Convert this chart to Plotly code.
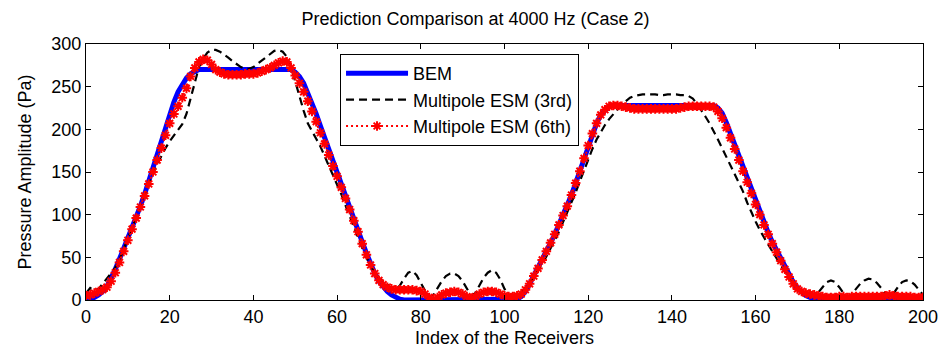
import plotly.graph_objects as go

receivers = list(range(0, 201))

bem = [
    0, 1, 3, 6, 10, 16, 25, 36, 48, 60,
    72, 84, 97, 110, 124, 140, 154, 168, 186, 203,
    218, 232, 244, 253, 260, 265, 268, 270, 270, 270,
    270, 270, 270, 270, 270, 270, 270, 270, 270, 270,
    270, 270, 270, 270, 270, 270, 270, 270, 270, 270,
    267, 262, 254, 243, 230, 218, 204, 190, 176, 162,
    149, 136, 122, 109, 96, 82, 68, 55, 42, 31,
    22, 15, 10, 6, 3, 1, 0, 0, 0, 0,
    0, 0, 0, 0, 0, 0, 0, 0, 0, 0,
    0, 0, 0, 0, 0, 0, 0, 0, 0, 0,
    0, 0, 0, 1, 4, 10, 19, 28, 37, 47,
    57, 67, 77, 88, 99, 110, 123, 137, 151, 166,
    181, 195, 207, 217, 223, 227, 228, 228, 228, 228,
    228, 228, 228, 228, 228, 228, 228, 228, 228, 228,
    228, 228, 228, 228, 228, 228, 228, 228, 228, 228,
    228, 225, 219, 208, 195, 182, 168, 155, 141, 128,
    115, 102, 90, 79, 68, 58, 48, 38, 29, 21,
    14, 9, 5, 3, 1, 0, 0, 0, 0, 0,
    0, 0, 0, 0, 0, 0, 0, 0, 0, 0,
    0, 0, 0, 0, 0, 0, 0, 0, 0, 0,
    0,
]

esm3 = [
    8, 14, 11, 13, 19, 25, 31, 38, 47, 59,
    71, 84, 97, 110, 123, 136, 148, 159, 169, 178,
    186, 193, 199, 206, 218, 237, 257, 273, 283, 290,
    293, 293, 291, 288, 284, 280, 276, 273, 271, 271,
    273, 277, 281, 285, 289, 292, 293, 291, 285, 273,
    256, 238, 222, 207, 197, 189, 180, 169, 158, 147,
    136, 124, 111, 98, 85, 73, 61, 50, 40, 32,
    26, 22, 18, 14, 12, 17, 25, 32, 34, 29,
    20, 11, 4, 6, 14, 22, 28, 31, 31, 28,
    22, 14, 5, 8, 17, 26, 32, 35, 32, 24,
    13, 6, 5, 6, 9, 14, 20, 27, 34, 42,
    51, 60, 70, 80, 91, 102, 114, 126, 139, 152,
    165, 177, 188, 197, 205, 212, 218, 224, 229, 233,
    237, 239, 240, 241, 241, 241, 241, 240, 240, 241,
    241, 241, 240, 240, 239, 236, 230, 223, 215, 207,
    198, 188, 178, 168, 158, 148, 138, 127, 114, 102,
    92, 82, 73, 65, 57, 49, 41, 33, 25, 19,
    14, 10, 7, 5, 5, 9, 15, 21, 23, 21,
    15, 8, 3, 7, 13, 19, 23, 25, 24, 20,
    14, 7, 3, 8, 15, 21, 23, 22, 18, 12,
    6,
]

esm6 = [
    5, 6, 8, 10, 12, 15, 22, 32, 44, 57,
    70, 83, 96, 109, 122, 136, 150, 164, 178, 193,
    207, 218, 227, 237, 248, 262, 272, 279, 282, 281,
    276, 270, 267, 265, 264, 264, 264, 264, 265, 265,
    265, 266, 268, 270, 272, 275, 278, 280, 279, 272,
    263, 254, 244, 233, 221, 209, 196, 183, 170, 157,
    145, 132, 119, 106, 93, 80, 66, 53, 41, 31,
    23, 18, 15, 13, 12, 12, 12, 12, 12, 11,
    10, 7, 3, 1, 3, 6, 8, 9, 10, 9,
    7, 4, 2, 4, 7, 9, 10, 10, 9, 7,
    5, 4, 4, 5, 7, 12, 19, 28, 37, 47,
    57, 67, 77, 88, 99, 110, 123, 137, 151, 166,
    181, 195, 207, 217, 223, 227, 228, 228, 227, 226,
    225, 224, 224, 224, 224, 224, 224, 224, 224, 224,
    224, 224, 225, 226, 227, 227, 227, 227, 227, 227,
    226, 221, 213, 202, 190, 177, 164, 151, 138, 125,
    112, 100, 88, 77, 66, 56, 46, 36, 27, 19,
    13, 10, 8, 7, 6, 5, 4, 3, 3, 3,
    4, 4, 3, 4, 4, 4, 4, 4, 4, 4,
    4, 5, 6, 5, 4, 4, 4, 4, 3, 3,
    3,
]

x_ticks = [0, 20, 40, 60, 80, 100, 120, 140, 160, 180, 200]
y_ticks = [0, 50, 100, 150, 200, 250, 300]

FONT = "Liberation Sans, Arial, sans-serif"

fig = go.Figure()
fig.add_trace(go.Scatter(
    x=receivers, y=bem, name="BEM", mode="lines",
    line=dict(color="#0000ff", width=5),
))
fig.add_trace(go.Scatter(
    x=receivers, y=esm3, name="Multipole ESM (3rd)", mode="lines",
    line=dict(color="#000000", width=2.2, dash="8px,5px"),
))
fig.add_trace(go.Scatter(
    x=receivers, y=esm6, name="Multipole ESM (6th)", mode="lines+markers",
    line=dict(color="#ff0000", width=2, dash="2px,3px"),
    marker=dict(symbol="asterisk-open", size=8, color="#ff0000",
                line=dict(color="#ff0000", width=2)),
))

axis_common = dict(
    showline=True, linecolor="black", linewidth=1, mirror="ticks",
    ticks="inside", ticklen=5, tickcolor="black", tickwidth=1,
    showgrid=False, zeroline=False, automargin=False,
    tickfont=dict(family=FONT, size=18, color="black"),
)

fig.update_layout(
    width=951, height=348,
    margin=dict(l=86, r=28, t=44, b=48),
    paper_bgcolor="white", plot_bgcolor="white",
    font=dict(family=FONT, size=18, color="black"),
    title=dict(text="Prediction Comparison at 4000 Hz (Case 2)",
               x=0.5, xanchor="center", y=0.945, yanchor="middle",
               font=dict(family=FONT, size=18, color="black")),
    xaxis=dict(range=[0, 200], tickvals=x_ticks,
               title=dict(text="Index of the Receivers",
                          font=dict(family=FONT, size=18, color="black")),
               **axis_common),
    yaxis=dict(range=[0, 300], tickvals=y_ticks,
               title=dict(text="Pressure Amplitude (Pa)",
                          font=dict(family=FONT, size=18, color="black")),
               **axis_common),
    legend=dict(x=0.3035, y=0.961, xanchor="left", yanchor="top",
                bgcolor="white", bordercolor="black", borderwidth=1,
                font=dict(family=FONT, size=18, color="black"),
                itemwidth=62, tracegroupgap=0),
    showlegend=True,
)

fig.write_html("out.html")
